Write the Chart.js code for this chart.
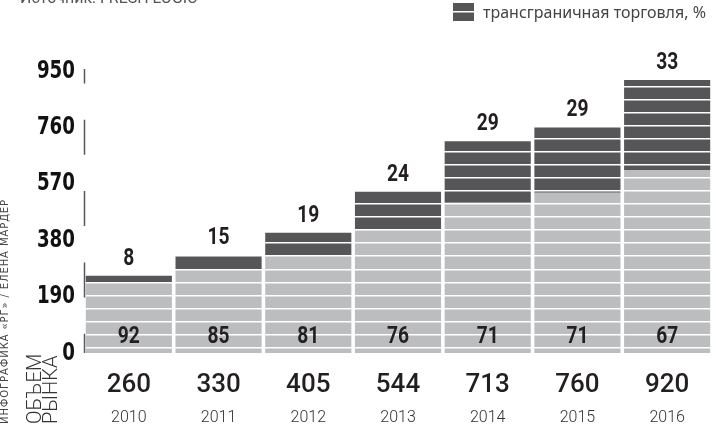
<!DOCTYPE html>
<html>
<head>
<meta charset="utf-8">
<script src="https://cdn.jsdelivr.net/npm/chart.js@4.4.1/dist/chart.umd.min.js"></script>
<style>
  html, body { margin: 0; padding: 0; background: #fff; }
  #wrap { width: 716px; height: 426px; position: relative; }
</style>
</head>
<body>
<div id="wrap"><canvas id="chart"></canvas></div>
<script>
// market volume, total per year
const years = ["2010", "2011", "2012", "2013", "2014", "2015", "2016"];
const totals = [260, 330, 405, 544, 713, 760, 920];
// share, %
const crossBorder = [8, 15, 19, 24, 29, 29, 33];
const domestic = [92, 85, 81, 76, 71, 71, 67];
const yTicks = [0, 190, 380, 570, 760, 950];

const DARK = "#565658";
const GRAY = "#bcbdbf";

const domesticVol = totals.map((t, i) => t * domestic[i] / 100);
const crossVol = totals.map((t, i) => t * crossBorder[i] / 100);

// no condensed font installed, so squeeze the text horizontally
function narrowText(ctx, text, x, y, sx) {
  ctx.save();
  ctx.translate(x, y);
  ctx.scale(sx, 1);
  ctx.fillText(text, 0, 0);
  ctx.restore();
}

const decor = {
  id: "decor",
  // drawn after the white stripe layer so nothing gets cut
  afterDraw(chart) {
    const { ctx, chartArea } = chart;
    const y = chart.scales.y;
    const gray = chart.getDatasetMeta(0).data;
    const dark = chart.getDatasetMeta(1).data;
    ctx.save();

    // broken y axis line
    ctx.save();
    ctx.strokeStyle = "#58585a";
    ctx.lineWidth = 1.5;
    ctx.setLineDash([35, 36.3]);
    ctx.lineDashOffset = 20.5;
    ctx.beginPath();
    ctx.moveTo(chartArea.left + 0.5, chartArea.top - 2);
    ctx.lineTo(chartArea.left + 0.5, chartArea.bottom);
    ctx.stroke();
    ctx.restore();

    // shares above and inside the bars
    ctx.fillStyle = "#231f20";
    ctx.textAlign = "center";
    ctx.textBaseline = "middle";
    ctx.font = "bold 24px Roboto";
    dark.forEach((bar, i) => {
      narrowText(ctx, String(crossBorder[i]), bar.x, bar.y - 17, 0.8);
    });
    gray.forEach((bar, i) => {
      narrowText(ctx, String(domestic[i]), bar.x, y.bottom - 16, 0.8);
    });

    // y tick labels
    ctx.fillStyle = "#111";
    ctx.font = "bold 25px 'DejaVu Sans'";
    ctx.textAlign = "right";
    yTicks.forEach(v => {
      narrowText(ctx, String(v), 75, y.getPixelForValue(v), 0.73);
    });

    // source, cut by the top edge
    ctx.fillStyle = "#555";
    ctx.font = "16px Roboto";
    ctx.textBaseline = "alphabetic";
    ctx.textAlign = "left";
    ctx.fillText("Источник: FRESH LOGIC", 20, 3);

    // legend
    ctx.fillStyle = DARK;
    ctx.fillRect(453, 3, 21, 18);
    ctx.fillStyle = "#fff";
    ctx.fillRect(453, 11, 21, 1.5);
    ctx.fillStyle = "#444";
    ctx.font = "16px 'Noto Sans'";
    ctx.textBaseline = "middle";
    ctx.fillText("трансграничная торговля, %", 483, 13);

    // rotated texts on the left
    ctx.save();
    ctx.translate(8, 426);
    ctx.rotate(-Math.PI / 2);
    ctx.fillStyle = "#444";
    ctx.font = "10px 'DejaVu Sans'";
    ctx.letterSpacing = "0.9px";
    ctx.textAlign = "left";
    ctx.textBaseline = "alphabetic";
    ctx.fillText("ИНФОГРАФИКА «РГ» / ЕЛЕНА МАРДЕР", 2, 0);
    ctx.restore();

    ctx.save();
    ctx.translate(0, 426);
    ctx.rotate(-Math.PI / 2);
    ctx.fillStyle = "#333";
    ctx.font = "300 20px Roboto";
    ctx.textAlign = "left";
    ctx.textBaseline = "middle";
    ctx.fillText("ОБЪЕМ", 2, 36);
    ctx.fillText("РЫНКА", 2, 52);
    ctx.restore();

    ctx.restore();
  }
};

new Chart(document.getElementById("chart"), {
  type: "bar",
  data: {
    labels: years,
    datasets: [
      { label: "внутренняя торговля, %", data: domesticVol, backgroundColor: GRAY },
      { label: "трансграничная торговля, %", data: crossVol, backgroundColor: DARK }
    ]
  },
  plugins: [decor],
  options: {
    responsive: true,
    maintainAspectRatio: false,
    animation: false,
    layout: { padding: { top: 71, right: 4, left: 0, bottom: 0 } },
    plugins: {
      legend: { display: false },
      tooltip: { enabled: false }
    },
    datasets: {
      bar: { barPercentage: 0.96, categoryPercentage: 1, borderWidth: 0 }
    },
    scales: {
      x: {
        stacked: true,
        grid: { display: false, drawTicks: false },
        border: { display: false },
        ticks: {
          padding: 17,
          color: "#231f20",
          font: { family: "Roboto", size: 26, weight: "500" },
          callback: (v, i) => String(totals[i])
        },
        afterFit: s => { s.height = 46; }
      },
      x2: {
        type: "category",
        labels: years,
        position: "bottom",
        grid: { display: false, drawTicks: false },
        border: { display: false },
        ticks: {
          padding: 9,
          color: "#333",
          font: { family: "Roboto", size: 16, weight: "300" }
        },
        afterFit: s => { s.height = 27; }
      },
      y: {
        stacked: true,
        min: 0,
        max: 950,
        afterBuildTicks: s => { s.ticks = yTicks.map(v => ({ value: v })); },
        grid: { display: false, drawTicks: false },
        border: { display: false },
        ticks: { display: false },
        afterFit: s => { s.width = 84; }
      },
      stripes: {
        position: "right",
        min: 0,
        max: 950,
        afterBuildTicks: s => {
          const t = [];
          for (let v = 18.5; v < 950; v += 43.9) t.push({ value: v });
          s.ticks = t;
        },
        grid: { color: "#ffffff", lineWidth: 1.6, drawTicks: false, z: 1 },
        border: { display: false },
        ticks: { display: false },
        afterFit: s => { s.width = 0; }
      }
    }
  }
});
</script>
</body>
</html>
